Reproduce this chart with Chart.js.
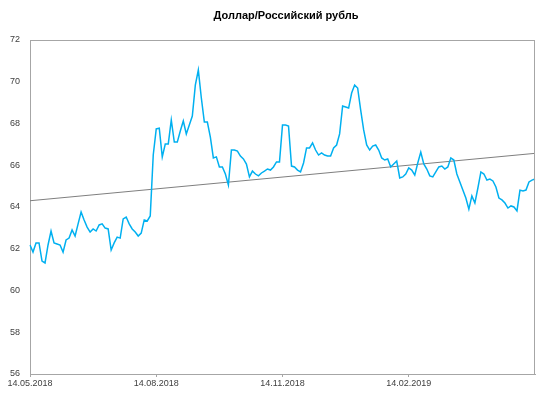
<!DOCTYPE html>
<html>
<head>
<meta charset="utf-8">
<script src="https://cdn.jsdelivr.net/npm/chart.js@4/dist/chart.umd.min.js"></script>
<style>
    html, body { margin: 0; padding: 0; background: #fff; }
    #wrap { width: 536px; height: 394px; position: relative; }
</style>
</head>
<body>
<div id="wrap"><canvas id="myChart"></canvas></div>
<script>
const chartTitle = 'Доллар/Российский рубль';

// Подписи оси X и их позиции (индексы точек)
const tickLabels = ['14.05.2018', '14.08.2018', '14.11.2018', '14.02.2019'];
const tickIndex = [0, 42, 84, 126];

// Курс USD/RUB
const rates = [
    62.18, 61.84, 62.28, 62.28, 61.41, 61.32, 62.18, 62.85, 62.28, 62.23,
    62.18, 61.84, 62.42, 62.51, 62.90, 62.61, 63.19, 63.76, 63.38, 63.04,
    62.80, 62.95, 62.85, 63.14, 63.19, 62.99, 62.95, 61.94, 62.28, 62.56,
    62.51, 63.43, 63.52, 63.19, 62.95, 62.80, 62.61, 62.75, 63.38, 63.33,
    63.57, 66.49, 67.74, 67.78, 66.40, 67.02, 67.02, 68.17, 67.11, 67.11,
    67.64, 68.12, 67.50, 67.93, 68.36, 69.84, 70.56, 69.22, 68.07, 68.07,
    67.35, 66.35, 66.40, 65.92, 65.92, 65.58, 65.05, 66.73, 66.73, 66.68,
    66.44, 66.30, 66.06, 65.44, 65.72, 65.58, 65.49, 65.63, 65.72, 65.82,
    65.77, 65.92, 66.16, 66.16, 67.93, 67.93, 67.88, 65.96, 65.92, 65.77,
    65.68, 66.11, 66.83, 66.83, 67.07, 66.73, 66.49, 66.59, 66.49, 66.44,
    66.44, 66.83, 66.97, 67.50, 68.84, 68.79, 68.74, 69.46, 69.84, 69.70,
    68.65, 67.69, 66.97, 66.73, 66.92, 66.97, 66.73, 66.35, 66.25, 66.30,
    65.92, 66.06, 66.20, 65.39, 65.44, 65.58, 65.87, 65.77, 65.53, 66.11,
    66.63, 66.06, 65.82, 65.49, 65.44, 65.68, 65.92, 65.96, 65.82, 65.92,
    66.35, 66.25, 65.58, 65.20, 64.81, 64.43, 63.90, 64.53, 64.19, 64.91,
    65.68, 65.58, 65.29, 65.34, 65.25, 64.96, 64.43, 64.34, 64.19, 63.95,
    64.05, 64.00, 63.81, 64.81, 64.77, 64.81, 65.20, 65.29, 65.34
];

// Линия тренда: начало и конец
const trendStart = 64.30;
const trendEnd = 66.57;

const labels = rates.map((v, i) => {
    const k = tickIndex.indexOf(i);
    return k >= 0 ? tickLabels[k] : '';
});
const trend = rates.map((v, i) => i === 0 ? trendStart : (i === rates.length - 1 ? trendEnd : null));

// Рамка области построения и заголовок
const frameTitle = {
    id: 'frameTitle',
    afterDraw(chart) {
        const { ctx, chartArea: a } = chart;
        ctx.save();
        ctx.strokeStyle = '#a6a6a6';
        ctx.lineWidth = 1;
        ctx.beginPath();
        ctx.moveTo(a.left, a.top + 0.5);
        ctx.lineTo(a.right, a.top + 0.5);
        ctx.moveTo(a.right - 0.5, a.top);
        ctx.lineTo(a.right - 0.5, a.bottom);
        ctx.stroke();
        ctx.fillStyle = '#000';
        ctx.font = 'bold 11px "Liberation Sans"';
        ctx.textAlign = 'center';
        ctx.textBaseline = 'middle';
        ctx.fillText(chartTitle, 286, 16);
        ctx.restore();
    }
};

const ctx = document.getElementById('myChart').getContext('2d');
const myChart = new Chart(ctx, {
    type: 'line',
    data: {
        labels: labels,
        datasets: [{
            data: rates,
            borderColor: '#00b0f0',
            borderWidth: 1.5,
            pointRadius: 0,
            tension: 0,
        }, {
            data: trend,
            borderColor: '#7f7f7f',
            borderWidth: 1,
            pointRadius: 0,
            spanGaps: true,
        }]
    },
    options: {
        responsive: true,
        maintainAspectRatio: false,
        animation: false,
        layout: { padding: { top: 40, left: 0, right: 0, bottom: 0 } },
        plugins: {
            legend: { display: false },
            tooltip: { enabled: false },
        },
        scales: {
            x: {
                afterFit: (scale) => { scale.height = 20; },
                grid: {
                    drawOnChartArea: false,
                    drawTicks: true,
                    tickLength: 3,
                    color: (c) => tickIndex.includes(c.index) ? '#a6a6a6' : 'rgba(0,0,0,0)',
                },
                border: { display: true, color: '#a6a6a6' },
                ticks: {
                    autoSkip: false,
                    maxRotation: 0,
                    padding: 1,
                    color: '#404040',
                    font: { family: 'Liberation Sans', size: 9 },
                }
            },
            y: {
                min: 56,
                max: 72,
                afterFit: (scale) => { scale.width = 30; },
                grid: { display: false, drawTicks: false },
                border: { display: true, color: '#a6a6a6' },
                ticks: {
                    stepSize: 2,
                    padding: 10,
                    color: '#404040',
                    font: { family: 'Liberation Sans', size: 9 },
                }
            }
        }
    },
    plugins: [frameTitle]
});
</script>
</body>
</html>
